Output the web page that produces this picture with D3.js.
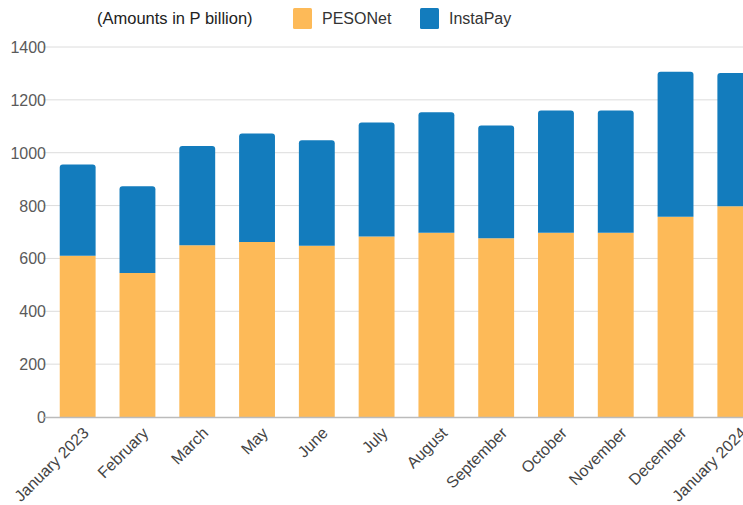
<!DOCTYPE html>
<html>
<head>
<meta charset="utf-8">
<script src="https://cdn.jsdelivr.net/npm/d3@7"></script>
<style>
  body { margin: 0; background: #fff; }
  text { font-family: "Liberation Sans", Arial, sans-serif; }
</style>
</head>
<body>
<script>
var months = ["January 2023", "February", "March", "May", "June", "July",
  "August", "September", "October", "November", "December", "January 2024"];
var pesonet = [610, 545, 650, 662, 648, 683, 697, 676, 697, 697, 758, 797];
var instapay = [345, 328, 375, 411, 399, 431, 456, 427, 463, 463, 548, 505];
var yTicks = [0, 200, 400, 600, 800, 1000, 1200, 1400];
var seriesNames = ["PESONet", "InstaPay"];
var seriesColors = ["#FDBA58", "#137CBD"];

var width = 743, height = 505;

var svg = d3.select("body").append("svg")
  .attr("width", width)
  .attr("height", height);

var x = d3.scaleBand()
  .domain(months)
  .range([43, 770])
  .paddingInner(0.4)
  .paddingOuter(0.28);

var y = d3.scaleLinear().domain([0, 1400]).range([417, 47]);

// gridlines
svg.append("g").selectAll("line")
  .data(yTicks.slice(1))
  .enter().append("line")
  .attr("x1", 43).attr("x2", 770)
  .attr("y1", d => y(d)).attr("y2", d => y(d))
  .attr("stroke", "#dcdcdc").attr("stroke-width", 1);

// y labels
svg.append("g").selectAll("text")
  .data(yTicks)
  .enter().append("text")
  .attr("x", 46)
  .attr("y", d => y(d) + 6)
  .attr("text-anchor", "end")
  .attr("font-size", 16)
  .attr("fill", "#5a5a5a")
  .text(d => d);

// stacked bars
var rows = months.map((m, i) => ({ month: m, PESONet: pesonet[i], InstaPay: instapay[i] }));
var stack = d3.stack().keys(seriesNames)(rows);

svg.append("g").selectAll("g")
  .data(stack)
  .enter().append("g")
  .attr("fill", (d, i) => seriesColors[i])
  .selectAll("path")
  .data(d => d)
  .enter().append("path")
  .attr("d", function (d) {
    var x0 = x(d.data.month), w = x.bandwidth();
    var yt = y(d[1]), yb = y(d[0]);
    var r = d3.select(this.parentNode).datum().key === "InstaPay" ? 3 : 0;
    return "M" + x0 + "," + yb + "V" + (yt + r) +
      "Q" + x0 + "," + yt + " " + (x0 + r) + "," + yt +
      "H" + (x0 + w - r) +
      "Q" + (x0 + w) + "," + yt + " " + (x0 + w) + "," + (yt + r) +
      "V" + yb + "Z";
  });

// baseline
svg.append("line")
  .attr("x1", 43).attr("x2", 770)
  .attr("y1", y(0) + 0.5).attr("y2", y(0) + 0.5)
  .attr("stroke", "#bbb").attr("stroke-width", 1.5);

// x labels
svg.append("g").selectAll("text")
  .data(months)
  .enter().append("text")
  .attr("transform", d => "translate(" + (x(d) + x.bandwidth() / 2 + 12) + ",434) rotate(-45)")
  .attr("text-anchor", "end")
  .attr("font-size", 16)
  .attr("fill", "#444")
  .text(d => d);

// legend
svg.append("text")
  .attr("x", 97).attr("y", 24)
  .attr("font-size", 16.5)
  .attr("fill", "#222")
  .text("(Amounts in P billion)");

var leg = svg.append("g").selectAll("g")
  .data(seriesNames)
  .enter().append("g")
  .attr("transform", (d, i) => "translate(" + (293 + i * 127) + ",8)");
leg.append("rect")
  .attr("width", 19).attr("height", 21)
  .attr("rx", 1.5)
  .attr("fill", (d, i) => seriesColors[i]);
leg.append("text")
  .attr("x", 29).attr("y", 16)
  .attr("font-size", 16)
  .attr("fill", "#333")
  .text(d => d);
</script>
</body>
</html>
